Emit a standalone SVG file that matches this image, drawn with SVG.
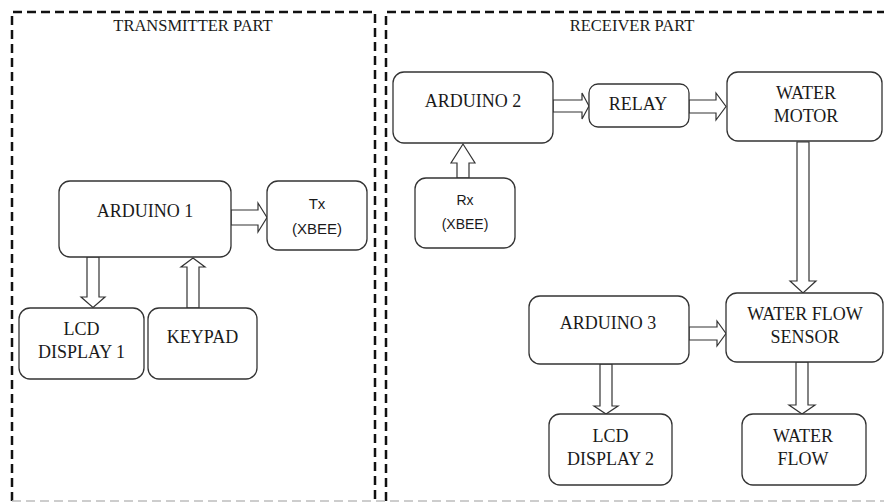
<svg xmlns="http://www.w3.org/2000/svg" width="884" height="504" viewBox="0 0 884 504">
<style>
.frame{fill:none;stroke:#111;stroke-width:2.5;stroke-dasharray:9 5}
.bottom{fill:none;stroke:#bdbdbd;stroke-width:1.5;stroke-dasharray:9 5}
.box{fill:#fff;stroke:#333;stroke-width:1.3}
.arr{fill:#fff;stroke:#333;stroke-width:1.2;stroke-linejoin:miter}
.t{font-family:"Liberation Serif","Times New Roman",serif;font-size:18px;fill:#1a1a1a;text-anchor:middle}
.title{font-family:"Liberation Serif","Times New Roman",serif;font-size:16.5px;fill:#1a1a1a;text-anchor:middle}
.s{font-family:"Liberation Sans",Arial,sans-serif;font-size:15px;fill:#1a1a1a;text-anchor:middle}
.s2{font-family:"Liberation Sans",Arial,sans-serif;font-size:14px;fill:#1a1a1a;text-anchor:middle}
</style>
<rect width="884" height="504" fill="#fff"/>
<g id="frames">
<path class="frame" d="M12,501 V12 H375 V501"/>
<path class="frame" d="M386,501 V12 H890"/>
<line class="bottom" x1="12" y1="501" x2="884" y2="501"/>
<text class="title" x="193" y="31">TRANSMITTER PART</text>
<text class="title" x="632" y="31">RECEIVER PART</text>
</g>
<g id="connectors">
<polygon class="arr" points="231,210 258,210 258,203 267,217.5 258,232 258,225 231,225"/>
<polygon class="arr" points="87,257 99,257 99,297 105,297 93,307.5 81,297 87,297"/>
<polygon class="arr" points="187,308 187,267 181,267 193,258 205,267 199,267 199,308"/>
<polygon class="arr" points="553,100 582,100 582,93 589,106 582,119 582,112 553,112"/>
<polygon class="arr" points="689,100 716,100 716,93 726,106.5 716,120 716,113 689,113"/>
<polygon class="arr" points="457,178 457,163 451,163 463,144 475,163 469,163 469,178"/>
<polygon class="arr" points="797,142 809,142 809,281 816,281 803,293 790,281 797,281"/>
<polygon class="arr" points="689,327 717,327 717,321 726,333.5 717,346 717,340 689,340"/>
<polygon class="arr" points="600,364 612,364 612,406 618,406 606,414 594,406 600,406"/>
<polygon class="arr" points="796,362 808,362 808,405 815,405 802,414 789,405 796,405"/>
</g>
<g id="arduino1"><rect class="box" x="59" y="181" width="172" height="76" rx="11"/><text class="t" x="145" y="217">ARDUINO 1</text></g>
<g id="tx"><rect class="box" x="267" y="181" width="100" height="69" rx="11"/><text class="s" x="317" y="209">Tx</text><text class="s" x="317" y="234">(XBEE)</text></g>
<g id="lcd1"><rect class="box" x="19" y="308" width="125" height="71" rx="11"/><text class="t" x="81.5" y="335">LCD</text><text class="t" x="81.5" y="358">DISPLAY 1</text></g>
<g id="keypad"><rect class="box" x="148" y="308" width="109" height="71" rx="11"/><text class="t" x="202.5" y="343">KEYPAD</text></g>
<g id="arduino2"><rect class="box" x="393" y="72" width="160" height="71" rx="11"/><text class="t" x="473" y="107">ARDUINO 2</text></g>
<g id="relay"><rect class="box" x="589" y="84" width="100" height="43" rx="9"/><text class="t" x="638" y="110">RELAY</text></g>
<g id="motor"><rect class="box" x="727" y="72" width="155" height="69" rx="11"/><text class="t" x="806" y="99">WATER</text><text class="t" x="806" y="122">MOTOR</text></g>
<g id="rx"><rect class="box" x="415" y="178" width="100" height="70" rx="11"/><text class="s2" x="465" y="205">Rx</text><text class="s2" x="465" y="229">(XBEE)</text></g>
<g id="arduino3"><rect class="box" x="529" y="296" width="160" height="68" rx="11"/><text class="t" x="608" y="329">ARDUINO 3</text></g>
<g id="sensor"><rect class="box" x="726" y="293" width="157" height="69" rx="11"/><text class="t" x="805" y="320">WATER FLOW</text><text class="t" x="805" y="343">SENSOR</text></g>
<g id="lcd2"><rect class="box" x="549" y="414" width="123" height="71" rx="11"/><text class="t" x="610.5" y="442">LCD</text><text class="t" x="610.5" y="465">DISPLAY 2</text></g>
<g id="waterflow"><rect class="box" x="742" y="414" width="124" height="71" rx="11"/><text class="t" x="803" y="442">WATER</text><text class="t" x="803" y="465">FLOW</text></g>
</svg>
